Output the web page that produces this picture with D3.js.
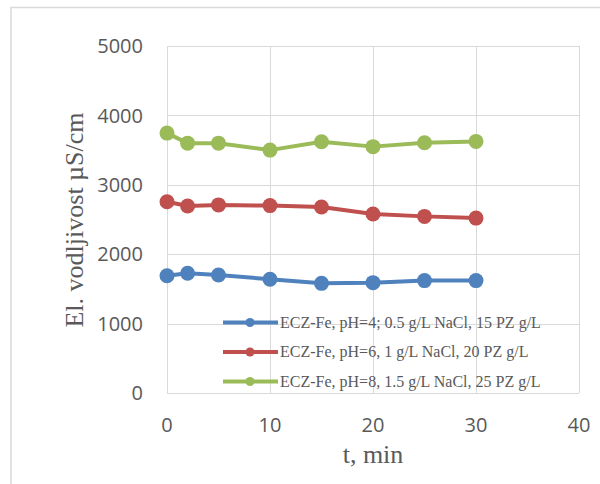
<!DOCTYPE html>
<html><head><meta charset="utf-8">
<script src="https://cdn.jsdelivr.net/npm/d3@7"></script>
<style>html,body{margin:0;padding:0;background:#fff;}svg{display:block;}</style>
</head><body>
<svg id="chart" width="600" height="484"></svg>
<script>
const times = [0, 2, 5, 10, 15, 20, 25, 30];
const seriesNames = [
  "ECZ-Fe, pH=4; 0.5 g/L NaCl, 15 PZ g/L",
  "ECZ-Fe, pH=6, 1 g/L NaCl, 20 PZ g/L",
  "ECZ-Fe, pH=8, 1.5 g/L NaCl, 25 PZ g/L"
];
const bluePH4 = [1690, 1725, 1700, 1640, 1580, 1590, 1620, 1620];
const redPH6 = [2755, 2695, 2710, 2700, 2680, 2580, 2545, 2520];
const greenPH8 = [3745, 3600, 3600, 3500, 3620, 3550, 3605, 3625];
const seriesColors = ["#4f81bd", "#c0504d", "#9bbb59"];
const xTicks = [0, 10, 20, 30, 40];
const yTicks = [0, 1000, 2000, 3000, 4000, 5000];
const xTitle = "t, min";
const yTitle = "El. vodljivost  µS/cm";

const svg = d3.select("#chart");
const x = d3.scaleLinear().domain([0, 40]).range([167, 579]);
const y = d3.scaleLinear().domain([0, 5000]).range([393, 46]);
const grid = "#d9d9d9";

// outer frame (top and left edges visible)
svg.append("path").attr("d", "M11,620 L11,7.5 L620,7.5")
  .attr("fill", "none").attr("stroke", grid).attr("stroke-width", 1.5);

// gridlines
svg.append("g").selectAll("line").data(yTicks).join("line")
  .attr("x1", x(0)).attr("x2", x(40)).attr("y1", d => Math.round(y(d)) + 0.5).attr("y2", d => Math.round(y(d)) + 0.5)
  .attr("stroke", grid).attr("stroke-width", 1);
svg.append("g").selectAll("line").data(xTicks).join("line")
  .attr("y1", y(0)).attr("y2", y(5000)).attr("x1", d => Math.round(x(d)) + 0.5).attr("x2", d => Math.round(x(d)) + 0.5)
  .attr("stroke", grid).attr("stroke-width", 1);

// tick labels
svg.append("g").selectAll("text").data(yTicks).join("text")
  .attr("x", 143).attr("y", d => y(d)).attr("dy", "0.36em")
  .attr("text-anchor", "end").attr("font-family", "'Open Sans', sans-serif").attr("font-size", 20)
  .attr("fill", "#595959").text(d => d);
svg.append("g").selectAll("text").data(xTicks).join("text")
  .attr("x", d => x(d)).attr("y", 425).attr("dy", "0.36em")
  .attr("text-anchor", "middle").attr("font-family", "'Open Sans', sans-serif").attr("font-size", 20)
  .attr("fill", "#595959").text(d => d);

// axis titles
svg.append("text").attr("x", 373).attr("y", 463).attr("text-anchor", "middle")
  .attr("font-family", "'Liberation Serif', 'Times New Roman', serif").attr("font-size", 26)
  .attr("fill", "#595959").text(xTitle);
svg.append("text").attr("transform", "translate(83,220) rotate(-90)").attr("text-anchor", "middle")
  .attr("font-family", "'Liberation Serif', 'Times New Roman', serif").attr("font-size", 26)
  .attr("fill", "#595959").text(yTitle);

// series
const allSeries = [bluePH4, redPH6, greenPH8];
const line = d3.line().x(d => x(d[0])).y(d => y(d[1]));
allSeries.forEach((vals, i) => {
  const pts = times.map((t, j) => [t, vals[j]]);
  const g = svg.append("g");
  g.append("path").datum(pts).attr("d", line).attr("fill", "none")
    .attr("stroke", seriesColors[i]).attr("stroke-width", 4).attr("stroke-linejoin", "round");
  g.selectAll("circle").data(pts).join("circle")
    .attr("cx", d => x(d[0])).attr("cy", d => y(d[1])).attr("r", 7.5).attr("fill", seriesColors[i]);
});

// legend
const legY = [322.5, 352, 381.5];
const leg = svg.append("g");
seriesNames.forEach((name, i) => {
  leg.append("line").attr("x1", 223).attr("x2", 278).attr("y1", legY[i]).attr("y2", legY[i])
    .attr("stroke", seriesColors[i]).attr("stroke-width", 4);
  leg.append("circle").attr("cx", 250).attr("cy", legY[i]).attr("r", 4.5).attr("fill", seriesColors[i]);
  leg.append("text").attr("x", 280).attr("y", legY[i]).attr("dy", "0.33em")
    .attr("font-family", "'Liberation Serif', 'Times New Roman', serif").attr("font-size", 16)
    .attr("fill", "#595959").text(name);
});
</script>
</body></html>
